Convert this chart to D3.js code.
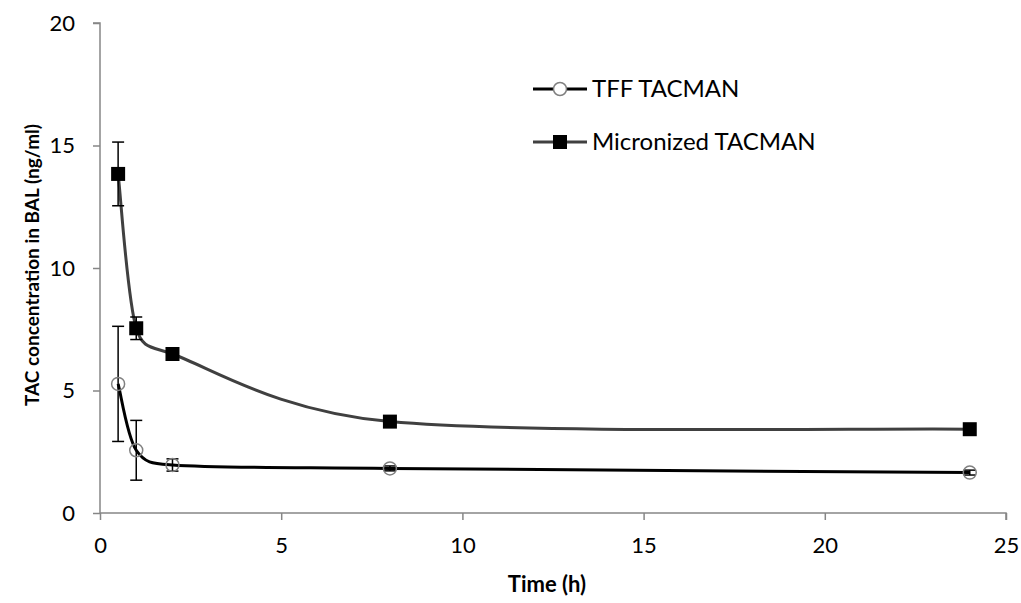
<!DOCTYPE html>
<html>
<head>
<meta charset="utf-8">
<script src="https://cdn.jsdelivr.net/npm/d3@7"></script>
<style>
  body { margin: 0; background: #fff; }
  text { font-family: Lato, "Open Sans", sans-serif; fill: #000; }
</style>
</head>
<body>
<div id="chart"></div>
<script>
// time points (h)
const times = [0.5, 1, 2, 8, 24];
const tffValues = [5.27, 2.56, 1.96, 1.82, 1.65];
const tffErrors = [2.35, 1.22, 0.25, 0.1, 0.1];
const micValues = [13.84, 7.54, 6.49, 3.73, 3.42];
const micErrors = [1.3, 0.46, 0, 0, 0];
const xTicks = [0, 5, 10, 15, 20, 25];
const yTicks = [0, 5, 10, 15, 20];
const seriesNames = ['TFF TACMAN', 'Micronized TACMAN'];

const chartWidth = 1021;
const chartHeight = 603;
const margin = { top: 23, right: 15, bottom: 90, left: 100 };
const width = 1006 - margin.left;
const height = 513 - margin.top;

// Excel-like smoothed line: cardinal tangents, clamped to the segment length
function SmoothCurve(context) { this._context = context; }
SmoothCurve.prototype = {
  areaStart() {}, areaEnd() {},
  lineStart() { this._pts = []; },
  point(x, y) { this._pts.push([+x, +y]); },
  lineEnd() {
    const p = this._pts, n = p.length, ctx = this._context;
    if (!n) return;
    ctx.moveTo(p[0][0], p[0][1]);
    const tan = p.map((_, i) => {
      const a = p[Math.max(i - 1, 0)], b = p[Math.min(i + 1, n - 1)];
      return [(b[0] - a[0]) / 6, (b[1] - a[1]) / 6];
    });
    const clamp = (t, len) => {
      const m = Math.hypot(t[0], t[1]), lim = 0.5 * len;
      return m > lim ? [t[0] * lim / m, t[1] * lim / m] : t;
    };
    for (let i = 0; i < n - 1; i++) {
      const len = Math.hypot(p[i + 1][0] - p[i][0], p[i + 1][1] - p[i][1]);
      const t1 = clamp(tan[i], len), t2 = clamp(tan[i + 1], len);
      ctx.bezierCurveTo(p[i][0] + t1[0], p[i][1] + t1[1],
        p[i + 1][0] - t2[0], p[i + 1][1] - t2[1], p[i + 1][0], p[i + 1][1]);
    }
  }
};
const smoothCurve = (context) => new SmoothCurve(context);

const svg = d3.select('#chart')
  .append('svg')
  .attr('width', chartWidth)
  .attr('height', chartHeight)
  .append('g')
  .attr('transform', `translate(${margin.left},${margin.top})`);

const xScale = d3.scaleLinear().domain([0, 25]).range([0, width]);
const yScale = d3.scaleLinear().domain([0, 20]).range([height, 0]);

const axisColor = '#868686';

const xAxis = svg.append('g')
  .attr('transform', `translate(0,${height})`)
  .call(d3.axisBottom(xScale).tickValues(xTicks).tickSize(7).tickPadding(17));
const yAxis = svg.append('g')
  .call(d3.axisLeft(yScale).tickValues(yTicks).tickSize(7).tickPadding(18));

[xAxis, yAxis].forEach((a) => {
  a.select('.domain').attr('stroke', axisColor).attr('stroke-width', 1.5);
  a.selectAll('.tick line').attr('stroke', axisColor).attr('stroke-width', 1.5);
  a.selectAll('.tick text').style('font-size', '22px').attr('fill', '#000');
});
yAxis.select('.domain').attr('d', `M-7,0H0V${height}`);
xAxis.select('.domain').attr('d', `M0,0V0H${width}V7`);

// axis titles
svg.append('text')
  .attr('x', width / 2 - 6)
  .attr('y', height + 79)
  .attr('text-anchor', 'middle')
  .style('font-size', '22px')
  .style('font-weight', 'bold')
  .text('Time (h)');

svg.append('text')
  .attr('transform', `translate(${-61},${height / 2 - 3}) rotate(-90)`)
  .attr('text-anchor', 'middle')
  .style('font-size', '19px')
  .style('font-weight', 'bold')
  .text('TAC concentration in BAL (ng/ml)');

const line = d3.line()
  .x((d) => xScale(d[0]))
  .y((d) => yScale(d[1]))
  .curve(smoothCurve);

const tffData = times.map((t, i) => [t, tffValues[i], tffErrors[i]]);
const micData = times.map((t, i) => [t, micValues[i], micErrors[i]]);

function errorBars(data) {
  const g = svg.append('g').attr('stroke', '#000').attr('stroke-width', 1.5);
  data.filter((d) => d[2] > 0).forEach((d) => {
    const x = xScale(d[0]);
    const y1 = yScale(d[1] + d[2]);
    const y2 = yScale(d[1] - d[2]);
    g.append('line').attr('x1', x).attr('x2', x).attr('y1', y1).attr('y2', y2);
    g.append('line').attr('x1', x - 6).attr('x2', x + 6).attr('y1', y1).attr('y2', y1);
    g.append('line').attr('x1', x - 6).attr('x2', x + 6).attr('y1', y2).attr('y2', y2);
  });
}

// micronized series
svg.append('path')
  .datum(micData)
  .attr('d', line)
  .attr('fill', 'none')
  .attr('stroke', '#404040')
  .attr('stroke-width', 3);
errorBars(micData);
svg.selectAll('.mic')
  .data(micData)
  .enter()
  .append('rect')
  .attr('class', 'mic')
  .attr('x', (d) => xScale(d[0]) - 7)
  .attr('y', (d) => yScale(d[1]) - 7)
  .attr('width', 14)
  .attr('height', 14)
  .attr('fill', '#000');

// TFF series
svg.append('path')
  .datum(tffData)
  .attr('d', line)
  .attr('fill', 'none')
  .attr('stroke', '#000')
  .attr('stroke-width', 3);
errorBars(tffData);
svg.selectAll('.tff')
  .data(tffData)
  .enter()
  .append('circle')
  .attr('class', 'tff')
  .attr('cx', (d) => xScale(d[0]))
  .attr('cy', (d) => yScale(d[1]))
  .attr('r', 6.5)
  .attr('fill', 'none')
  .attr('stroke', '#808080')
  .attr('stroke-width', 1.5);

// legend
const legend = svg.append('g').attr('transform', `translate(${533 - margin.left},${89 - margin.top})`);
const l1 = legend.append('g');
l1.append('line').attr('x1', 0).attr('x2', 54).attr('stroke', '#000').attr('stroke-width', 3);
l1.append('circle').attr('cx', 27).attr('r', 6.5).attr('fill', '#fff').attr('stroke', '#808080').attr('stroke-width', 1.5);
l1.append('text').attr('x', 59).attr('y', 8).style('font-size', '24px').text(seriesNames[0]);

const l2 = legend.append('g').attr('transform', 'translate(0,53)');
l2.append('line').attr('x1', 0).attr('x2', 54).attr('stroke', '#404040').attr('stroke-width', 3);
l2.append('rect').attr('x', 20).attr('y', -7).attr('width', 14).attr('height', 14).attr('fill', '#000');
l2.append('text').attr('x', 59).attr('y', 8).style('font-size', '24px').text(seriesNames[1]);
</script>
</body>
</html>
